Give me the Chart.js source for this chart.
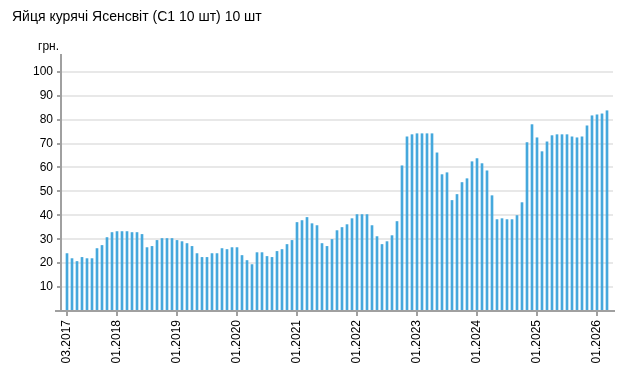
<!DOCTYPE html>
<html>
<head>
<meta charset="utf-8">
<script src="https://cdn.jsdelivr.net/npm/chart.js@4.4.1/dist/chart.umd.min.js"></script>
<style>
  html, body { margin: 0; padding: 0; background: #fff; }
  #wrap { width: 626px; height: 377px; }
</style>
</head>
<body>
<div id="wrap"><canvas id="chart" width="626" height="377"></canvas></div>
<script>
// monthly prices, 03.2017 .. 03.2026
const prices = [
  24.0, 21.9, 20.7, 22.4, 21.9, 21.9, 26.1, 27.4, 30.7, 32.8,
  33.2, 33.2, 33.2, 32.8, 32.8, 32.0, 26.5, 27.0, 29.5, 30.3,
  30.3, 30.3, 29.5, 29.0, 28.2, 27.0, 24.0, 22.4, 22.4, 24.0,
  24.0, 26.1, 25.7, 26.5, 26.5, 23.2, 21.1, 19.4, 24.4, 24.4,
  22.8, 22.4, 24.9, 25.7, 27.8, 29.5, 37.0, 37.8, 39.1, 36.5,
  35.7, 28.2, 27.0, 29.9, 33.6, 34.9, 36.1, 38.6, 40.3, 40.3,
  40.3, 35.7, 31.1, 27.8, 29.0, 31.5, 37.4, 60.7, 72.8, 73.7,
  74.1, 74.1, 74.1, 74.1, 66.1, 57.0, 57.8, 46.2, 48.7, 53.7,
  55.3, 62.4, 63.7, 61.6, 58.6, 48.2, 38.2, 38.6, 38.2, 38.2,
  39.9, 45.3, 70.4, 77.9, 72.4, 66.6, 70.7, 73.3, 73.7, 73.7,
  73.7, 72.8, 72.4, 72.8, 77.4, 81.6, 82.0, 82.4, 83.7
];

const months = [];
for (let i = 0; i < prices.length; i++) {
  const m = (2 + i) % 12 + 1;
  const y = 2017 + Math.floor((2 + i) / 12);
  months.push((m < 10 ? '0' : '') + m + '.' + y);
}

const tickLabels = ['03.2017', '01.2018', '01.2019', '01.2020', '01.2021',
  '01.2022', '01.2023', '01.2024', '01.2025', '01.2026'];
const yTicks = [10, 20, 30, 40, 50, 60, 70, 80, 90, 100];

const FONT = 'Liberation Sans, Arial, sans-serif';
const AXIS = '#a0a0a0';

// bottom axis line reaches a bit past the plot on both sides, plus the unit label
const extras = {
  id: 'extras',
  afterDraw(chart) {
    const { ctx, chartArea } = chart;
    ctx.save();
    ctx.strokeStyle = AXIS;
    ctx.lineWidth = 2;
    ctx.beginPath();
    ctx.moveTo(chartArea.left - 6, chartArea.bottom);
    ctx.lineTo(chartArea.right + 2, chartArea.bottom);
    ctx.stroke();
    ctx.fillStyle = '#000';
    ctx.font = '12px ' + FONT;
    ctx.textAlign = 'left';
    ctx.textBaseline = 'alphabetic';
    ctx.fillText('грн.', 38, 50);
    ctx.restore();
  }
};

new Chart(document.getElementById('chart'), {
  type: 'bar',
  data: {
    datasets: [{
      data: prices.map((v, i) => ({ x: i, y: v })),
      backgroundColor: '#45a8dc',
      barThickness: 2
    }]
  },
  options: {
    responsive: false,
    animation: false,
    layout: { padding: { left: 12, right: 13, top: 0, bottom: 0 } },
    plugins: {
      legend: { display: false },
      tooltip: { enabled: false },
      title: {
        display: true,
        text: 'Яйця курячі Ясенсвіт (С1 10 шт) 10 шт',
        align: 'start',
        color: '#000',
        font: { family: FONT, size: 14, weight: 'normal' },
        padding: { top: 9, bottom: 29.2 }
      }
    },
    scales: {
      x: {
        type: 'linear',
        offset: false,
        min: -1.2,
        max: 109.2,
        afterBuildTicks(scale) {
          scale.ticks = tickLabels.map(l => ({ value: months.indexOf(l) }));
        },
        afterFit(scale) { scale.height = 66; },
        grid: { offset: false, drawOnChartArea: false, tickLength: 5, tickColor: AXIS, lineWidth: 2 },
        border: { display: false },
        ticks: {
          autoSkip: false,
          minRotation: 90,
          maxRotation: 90,
          padding: 4,
          color: '#000',
          font: { family: FONT, size: 12 },
          callback: (v) => months[v]
        }
      },
      y: {
        min: 0,
        max: 107,
        afterBuildTicks(scale) {
          scale.ticks = yTicks.map(v => ({ value: v }));
        },
        afterFit(scale) { scale.width = 49; },
        grid: { color: '#e8e8e8', lineWidth: 2, tickLength: 4, tickColor: AXIS },
        border: { display: true, color: AXIS, width: 2 },
        ticks: {
          padding: 4,
          color: '#000',
          font: { family: FONT, size: 12 }
        }
      }
    }
  },
  plugins: [extras]
});
</script>
</body>
</html>
